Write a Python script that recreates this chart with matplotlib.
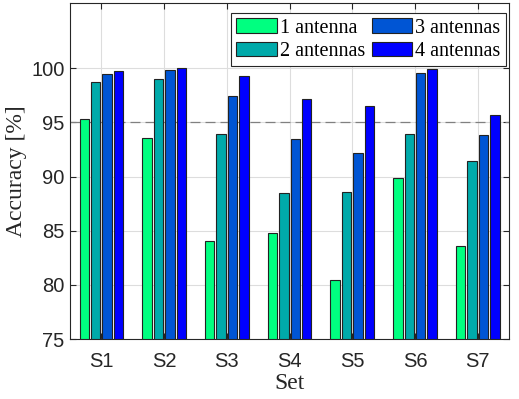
import matplotlib
matplotlib.use("Agg")
import matplotlib.pyplot as plt
import numpy as np

sets = ["S1", "S2", "S3", "S4", "S5", "S6", "S7"]
series_names = ["1 antenna", "2 antennas", "3 antennas", "4 antennas"]
acc_1 = [95.3, 93.6, 84.1, 84.8, 80.5, 89.9, 83.6]
acc_2 = [98.7, 99.0, 93.9, 88.5, 88.6, 93.9, 91.4]
acc_3 = [99.5, 99.8, 97.4, 93.5, 92.2, 99.6, 93.8]
acc_4 = [99.7, 100.0, 99.3, 97.2, 96.5, 99.9, 95.7]
threshold = 95
colors = [(0, 1, 0.5), (0, 0.667, 0.667), (0, 0.333, 0.833), (0, 0, 1)]

fig = plt.figure(figsize=(5.19, 3.99), dpi=100)
ax = fig.add_axes([0.135, 0.150, 0.846, 0.842])

x = np.arange(1, len(sets) + 1)
width = 0.15
step = 0.182
for k, vals in enumerate([acc_1, acc_2, acc_3, acc_4]):
    ax.bar(x + (k - 1.5) * step, np.array(vals) - 75, width, bottom=75,
           color=colors[k], edgecolor="#222222", linewidth=0.8,
           label=series_names[k], zorder=3)

ax.axhline(threshold, color="#808080", ls=(0, (8, 4)), lw=0.9, zorder=2)

ax.set_xlim(0.5, 7.5)
ax.set_ylim(75, 106)
ax.set_xticks(x)
ax.set_xticklabels(sets)
ax.set_yticks([75, 80, 85, 90, 95, 100])
ax.grid(True, color="#dddddd", lw=0.8, zorder=0)
ax.set_axisbelow(True)
ax.tick_params(direction="in", top=True, right=True, length=4, width=0.8,
               labelsize=14.5, colors="#262626")
ax.tick_params(axis="x", pad=9)
ax.tick_params(axis="y", pad=4)
for lab in ax.get_xticklabels() + ax.get_yticklabels():
    lab.set_family("Liberation Sans")
for sp in ax.spines.values():
    sp.set_color("#262626")
    sp.set_linewidth(0.8)

ax.set_xlabel("Set", family="Liberation Serif", fontsize=17, color="#262626",
              labelpad=2)
ax.set_ylabel("Accuracy [%]", family="Liberation Serif", fontsize=17,
              color="#262626", labelpad=3)

leg = ax.legend(ncol=2, loc="upper right", bbox_to_anchor=(0.992, 0.97),
                prop={"family": "Liberation Serif", "size": 14.5},
                fancybox=False, edgecolor="#262626", framealpha=1,
                handlelength=2.0, handleheight=0.75, handletextpad=0.15,
                columnspacing=0.35, labelspacing=0.2, borderpad=0.25,
                borderaxespad=0.0)
leg.get_frame().set_linewidth(0.8)

fig.savefig("out.png", dpi=100)
